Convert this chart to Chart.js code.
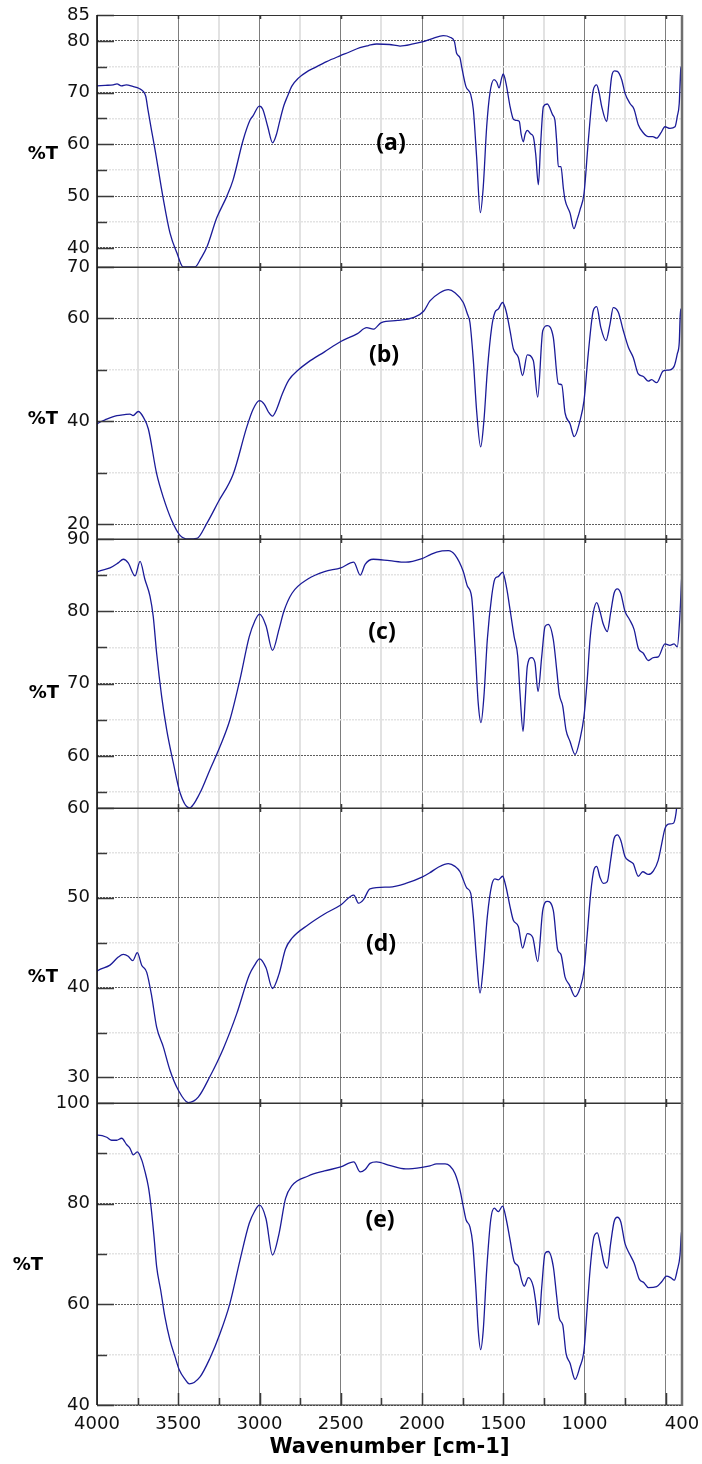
<!DOCTYPE html>
<html>
<head>
<meta charset="utf-8">
<style>
  html, body { margin: 0; padding: 0; background: #fff; }
  #wrap { position: relative; width: 702px; height: 1464px; overflow: hidden; }
  #wrap canvas { position: absolute; left: 0; }
</style>
<script src="https://cdn.jsdelivr.net/npm/chart.js@4.4.1/dist/chart.umd.min.js"></script>
</head>
<body>
<div id="wrap"></div>
<script>
// Spectres IR (a) a (e) : nombre d'onde [cm-1] et %T

const wnA = [
  4000, 3950, 3900, 3877, 3850, 3820, 3780, 3740, 3717, 3700,
  3686, 3665, 3643, 3594, 3551, 3508, 3470, 3440, 3397, 3360,
  3323, 3263, 3202, 3163, 3101, 3058, 3040, 3001, 2980, 2950,
  2919, 2895, 2874, 2850, 2829, 2800, 2761, 2700, 2669, 2587,
  2505, 2450, 2382, 2330, 2279, 2200, 2135, 2055, 2000, 1932,
  1869, 1828, 1800, 1787, 1766, 1756, 1730, 1700, 1684, 1664,
  1641, 1623, 1602, 1582, 1557, 1540, 1526, 1510, 1500, 1483,
  1458, 1440, 1428, 1410, 1401, 1390, 1377, 1365, 1352, 1330,
  1315, 1300, 1284, 1270, 1253, 1229, 1196, 1182, 1170, 1161,
  1145, 1130, 1120, 1089, 1065, 1045, 1028, 1003, 976, 946,
  925, 910, 894, 863, 850, 833, 815, 798, 771, 751,
  720, 695, 669, 640, 607, 580, 556, 530, 505, 474,
  443, 429, 417, 408, 404, 402, 400
];
const tA = [
  71.3, 71.4, 71.5, 71.7, 71.3, 71.5, 71.2, 70.8, 70.3, 69.3,
  66.6, 62.8, 59.0, 49.8, 42.9, 39.0, 36.3, 36.3, 36.3, 38.0,
  40.2, 45.8, 49.9, 53.1, 60.8, 64.7, 65.5, 67.4, 66.8, 63.5,
  60.3, 62.0, 64.7, 67.5, 69.2, 71.3, 72.8, 74.2, 74.7, 76.0,
  77.1, 77.8, 78.7, 79.1, 79.4, 79.3, 79.0, 79.4, 79.8, 80.5,
  81.0, 80.7, 79.8, 77.6, 76.7, 75.0, 71.2, 69.6, 66.7, 57.6,
  46.8, 51.8, 63.4, 69.9, 72.5, 72.0, 70.9, 72.8, 73.6, 71.8,
  67.3, 65.0, 64.7, 64.6, 64.4, 62.0, 60.5, 62.0, 62.7, 62.0,
  61.5, 58.0, 52.2, 60.0, 67.3, 67.8, 65.7, 64.7, 60.0, 55.7,
  55.7, 51.5, 49.3, 46.7, 43.7, 45.5, 47.3, 50.5, 60.9, 70.5,
  71.5, 70.0, 67.3, 64.4, 68.0, 73.1, 74.2, 74.1, 72.5, 69.9,
  67.9, 66.8, 63.8, 62.3, 61.5, 61.5, 61.2, 62.2, 63.4, 63.1,
  63.4, 65.4, 67.9, 74.4, 75.0, 69.2, 69.5
];

const wnB = [
  4000, 3994, 3940, 3877, 3830, 3797, 3778, 3746, 3715, 3684,
  3633, 3592, 3540, 3489, 3438, 3386, 3325, 3254, 3161, 3079,
  3040, 3000, 2970, 2945, 2920, 2895, 2860, 2820, 2760, 2700,
  2600, 2500, 2400, 2340, 2300, 2250, 2150, 2050, 1990, 1951,
  1890, 1838, 1797, 1746, 1721, 1705, 1684, 1664, 1639, 1619,
  1598, 1571, 1551, 1531, 1504, 1483, 1458, 1438, 1407, 1381,
  1352, 1315, 1288, 1257, 1229, 1192, 1161, 1140, 1120, 1089,
  1063, 1028, 1003, 977, 946, 925, 900, 868, 843, 823,
  792, 761, 730, 700, 669, 638, 607, 587, 556, 515,
  474, 447, 429, 417, 409, 404, 401, 400
];
const tB = [
  39.4, 39.6, 40.4, 41.1, 41.3, 41.4, 41.1, 41.9, 40.8, 38.5,
  29.8, 25.2, 20.7, 17.8, 17.1, 17.2, 20.1, 24.3, 29.8, 38.8,
  42.3, 44.0, 43.3, 41.8, 41.0, 42.3, 45.3, 48.0, 50.0, 51.5,
  53.5, 55.5, 57.0, 58.2, 57.9, 59.2, 59.6, 60.2, 61.4, 63.4,
  65.0, 65.6, 65.0, 63.1, 60.9, 59.2, 51.8, 42.1, 35.0, 40.1,
  49.8, 58.3, 61.2, 61.8, 63.1, 61.5, 57.6, 54.1, 52.4, 48.9,
  52.9, 51.8, 44.7, 57.6, 58.6, 56.3, 47.3, 47.1, 41.7, 39.5,
  37.0, 40.1, 44.0, 53.1, 61.5, 62.3, 58.3, 55.7, 58.9, 62.1,
  61.2, 57.6, 54.4, 52.4, 49.2, 48.7, 47.8, 48.1, 47.5, 49.8,
  50.0, 50.8, 53.1, 55.3, 61.8, 61.8, 47.0, 47.5
];

const wnC = [
  4000, 3994, 3920, 3869, 3838, 3808, 3766, 3735, 3705, 3674,
  3654, 3633, 3602, 3571, 3530, 3489, 3432, 3366, 3305, 3243,
  3182, 3120, 3063, 3030, 3000, 2960, 2920, 2880, 2850, 2800,
  2700, 2600, 2500, 2420, 2380, 2350, 2300, 2200, 2100, 2000,
  1951, 1910, 1838, 1797, 1746, 1721, 1694, 1674, 1654, 1637,
  1619, 1598, 1571, 1551, 1531, 1504, 1479, 1458, 1433, 1411,
  1397, 1378, 1366, 1352, 1325, 1305, 1286, 1263, 1243, 1223,
  1192, 1171, 1155, 1134, 1114, 1089, 1058, 1028, 1003, 983,
  966, 946, 925, 905, 884, 860, 839, 818, 798, 777,
  751, 724, 695, 669, 638, 607, 576, 546, 505, 474,
  449, 429, 412, 402, 400
];
const tC = [
  85.4, 85.5, 86.0, 86.7, 87.2, 86.7, 84.9, 86.9, 84.4, 82.1,
  79.3, 74.2, 68.2, 63.6, 59.0, 54.9, 52.8, 54.9, 58.1, 61.3,
  65.0, 70.6, 76.5, 78.6, 79.6, 78.0, 74.6, 77.5, 80.0, 82.5,
  84.5, 85.5, 86.0, 86.8, 85.0, 86.5, 87.2, 87.0, 86.8, 87.3,
  87.8, 88.2, 88.4, 87.8, 85.5, 83.5, 81.9, 75.2, 67.3, 64.6,
  68.2, 76.1, 82.1, 84.5, 84.8, 85.4, 83.2, 80.2, 76.5, 73.8,
  68.7, 63.4, 67.3, 72.4, 73.6, 72.9, 68.9, 73.8, 77.9, 78.2,
  76.1, 71.9, 68.5, 66.9, 63.6, 62.0, 60.2, 62.3, 65.5, 70.6,
  76.1, 79.8, 81.2, 80.0, 78.2, 77.2, 79.8, 82.5, 83.1, 82.5,
  80.0, 78.9, 77.5, 74.9, 74.2, 73.2, 73.6, 73.7, 75.5, 75.3,
  75.5, 75.1, 79.8, 84.6, 85.0
];

const wnD = [
  4000, 3994, 3920, 3869, 3838, 3808, 3780, 3752, 3725, 3694,
  3663, 3633, 3592, 3551, 3500, 3438, 3377, 3305, 3223, 3140,
  3063, 3030, 3000, 2960, 2920, 2880, 2840, 2800, 2700, 2600,
  2500, 2420, 2390, 2360, 2320, 2200, 2100, 2000, 1951, 1900,
  1838, 1797, 1766, 1746, 1725, 1700, 1684, 1664, 1643, 1623,
  1598, 1571, 1551, 1531, 1504, 1483, 1458, 1438, 1407, 1381,
  1352, 1319, 1288, 1257, 1229, 1192, 1165, 1145, 1120, 1093,
  1058, 1028, 1003, 983, 962, 942, 925, 905, 884, 860,
  839, 818, 798, 777, 751, 724, 700, 669, 642, 607,
  576, 546, 525, 505, 484, 453, 437, 425, 400
];
const tD = [
  41.8, 41.9, 42.5, 43.4, 43.7, 43.5, 43.0, 43.9, 42.5, 41.7,
  39.0, 35.6, 33.4, 30.8, 28.6, 27.2, 27.8, 30.1, 33.2, 37.1,
  41.4, 42.5, 43.2, 42.2, 39.9, 41.5, 44.3, 45.5, 47.0, 48.2,
  49.2, 50.3, 49.4, 49.8, 51.0, 51.2, 51.6, 52.3, 52.8, 53.4,
  53.8, 53.5, 52.9, 52.0, 51.1, 50.5, 47.9, 43.1, 39.4, 42.3,
  47.9, 51.4, 52.1, 52.0, 52.4, 51.2, 49.0, 47.5, 46.8, 44.4,
  46.0, 45.6, 42.9, 48.6, 49.6, 48.6, 44.2, 43.7, 41.2, 40.3,
  39.0, 39.9, 41.9, 46.0, 50.5, 53.1, 53.5, 52.3, 51.6, 51.8,
  54.2, 56.6, 57.0, 56.4, 54.6, 54.1, 53.8, 52.4, 52.9, 52.6,
  53.0, 54.2, 56.0, 57.7, 58.2, 58.3, 59.4, 61.5, 64.0
];

const wnE = [
  4000, 3994, 3940, 3910, 3879, 3848, 3817, 3797, 3777, 3752,
  3725, 3705, 3684, 3670, 3649, 3633, 3608, 3582, 3551, 3520,
  3494, 3458, 3432, 3366, 3305, 3243, 3182, 3120, 3063, 3030,
  3000, 2960, 2920, 2880, 2840, 2800, 2700, 2600, 2500, 2420,
  2380, 2350, 2320, 2280, 2200, 2100, 2000, 1951, 1910, 1858,
  1828, 1797, 1766, 1746, 1729, 1705, 1688, 1668, 1654, 1639,
  1623, 1602, 1577, 1555, 1531, 1504, 1483, 1458, 1433, 1407,
  1387, 1371, 1346, 1315, 1299, 1282, 1263, 1243, 1223, 1192,
  1171, 1155, 1134, 1114, 1089, 1058, 1028, 1003, 983, 962,
  942, 921, 900, 880, 860, 839, 818, 798, 777, 751,
  724, 695, 663, 634, 607, 556, 525, 495, 470, 447,
  429, 412, 402, 400
];
const tE = [
  93.6, 93.6, 93.2, 92.6, 92.6, 93.0, 91.7, 91.0, 89.7, 90.3,
  88.7, 86.4, 83.4, 80.1, 73.4, 67.5, 62.8, 57.5, 52.9, 49.6,
  47.0, 45.1, 44.2, 45.6, 49.3, 54.2, 60.2, 68.8, 76.1, 78.5,
  79.7, 77.0, 69.8, 74.0, 81.0, 83.6, 85.5, 86.5, 87.3, 88.3,
  86.3, 86.8, 88.0, 88.3, 87.6, 86.9, 87.2, 87.5, 87.9, 87.9,
  87.5, 86.0, 82.7, 79.4, 76.8, 75.4, 72.1, 62.8, 54.9, 51.0,
  54.9, 66.8, 76.8, 79.1, 78.4, 79.5, 77.1, 72.8, 68.5, 67.5,
  64.8, 63.6, 65.3, 63.5, 60.2, 55.9, 63.5, 70.1, 70.5, 67.5,
  61.5, 57.2, 55.9, 50.3, 48.3, 45.1, 47.6, 50.9, 59.5, 68.2,
  73.4, 74.2, 71.4, 68.2, 67.2, 72.1, 76.4, 77.3, 76.4, 72.1,
  70.1, 68.2, 65.0, 64.3, 63.3, 63.5, 64.5, 65.6, 65.3, 64.8,
  66.8, 69.8, 74.8, 71.8
];

// Graduations
const xTicks = [4000, 3750, 3500, 3250, 3000, 2750, 2500, 2250, 2000, 1750, 1500, 1250, 1000, 750, 500, 400];
const xTickLabels = [4000, 3500, 3000, 2500, 2000, 1500, 1000, 400];

const yMajorA = [40, 50, 60, 70, 80, 85];
const yMinorA = [45, 55, 65, 75];
const yMajorB = [20, 40, 60, 70];
const yMinorB = [30, 50];
const yMajorC = [60, 70, 80, 90];
const yMinorC = [55, 65, 75, 85];
const yMajorD = [30, 40, 50, 60];
const yMinorD = [35, 45, 55];
const yMajorE = [40, 60, 80, 100];
const yMinorE = [50, 70, 90];

const panelNames = ['(a)', '(b)', '(c)', '(d)', '(e)'];
const yLabel = '%T';
const xTitle = 'Wavenumber [cm-1]';

// Mise en page (pixels de la page)
const LINE_COLOR = '#1b1b98';
const TICK_FONT = { family: 'DejaVu Sans', size: 18 };

const panels = [
  { wn: wnA, t: tA, min: 36.3, max: 85, major: yMajorA, minor: yMinorA, top: 15, bottom: 267, nameX: 391, nameY: 143, unitX: 58, unitY: 154 },
  { wn: wnB, t: tB, min: 17.1, max: 70, major: yMajorB, minor: yMinorB, top: 267, bottom: 539, nameX: 384, nameY: 355, unitX: 58, unitY: 419 },
  { wn: wnC, t: tC, min: 52.8, max: 90, major: yMajorC, minor: yMinorC, top: 539, bottom: 808, nameX: 382, nameY: 632, unitX: 59, unitY: 693 },
  { wn: wnD, t: tD, min: 27.15, max: 60, major: yMajorD, minor: yMinorD, top: 808, bottom: 1103, nameX: 381, nameY: 944, unitX: 58, unitY: 977 },
  { wn: wnE, t: tE, min: 40, max: 100, major: yMajorE, minor: yMinorE, top: 1103, bottom: 1405, nameX: 380, nameY: 1220, unitX: 43, unitY: 1265 }
];

// Cadre, petites graduations internes et textes
const panelDecor = {
  id: 'panelDecor',
  afterDraw(chart, args, o) {
    const { ctx, chartArea: a } = chart;
    const x = chart.scales.x, y = chart.scales.y;
    ctx.save();

    ctx.lineWidth = 1.5;
    ctx.strokeStyle = '#3a3a3a';
    ctx.beginPath();
    y.ticks.forEach(t => {
      const py = Math.round(y.getPixelForValue(t.value)) + 0.5;
      const len = o.major.includes(t.value) ? 17 : 10;
      ctx.moveTo(a.left, py);
      ctx.lineTo(a.left + len, py);
    });
    x.ticks.forEach(t => {
      if (t.value >= 4000 || t.value <= 400) return;
      const px = Math.round(x.getPixelForValue(t.value)) + 0.5;
      const major = t.value % 500 === 0;
      const len = o.longTicks ? (major ? 12 : 7) : (major ? 4 : 0);
      if (len) {
        ctx.moveTo(px, a.bottom);
        ctx.lineTo(px, a.bottom - len);
      }
      if (major) {
        ctx.moveTo(px, a.top);
        ctx.lineTo(px, a.top + 4);
      }
    });
    ctx.stroke();

    // cadre
    ctx.lineWidth = 1.2;
    ctx.strokeStyle = '#333';
    ctx.beginPath();
    ctx.moveTo(a.left, a.top + 0.5); ctx.lineTo(a.right, a.top + 0.5);
    ctx.moveTo(a.left, a.bottom); ctx.lineTo(a.right, a.bottom);
    ctx.stroke();
    ctx.lineWidth = 1.6;
    ctx.strokeStyle = '#111';
    ctx.beginPath();
    ctx.moveTo(a.left, a.top); ctx.lineTo(a.left, a.bottom);
    ctx.stroke();
    ctx.lineWidth = 2.5;
    ctx.strokeStyle = '#6f6f6f';
    ctx.beginPath();
    ctx.moveTo(a.right, a.top); ctx.lineTo(a.right, a.bottom + 1);
    ctx.stroke();

    // textes
    ctx.fillStyle = '#000';
    ctx.textBaseline = 'middle';
    ctx.font = 'bold 23px "Open Sans"';
    ctx.textAlign = 'center';
    ctx.fillText(o.name, o.nameX, o.nameY - o.offsetY);
    ctx.font = 'bold 18px "DejaVu Sans"';
    ctx.textAlign = 'right';
    ctx.fillText(yLabel, o.unitX, o.unitY - o.offsetY);

    ctx.restore();
  }
};

const wrap = document.getElementById('wrap');

panels.forEach((p, i) => {
  const last = i === panels.length - 1;
  const padTop = 15;
  const padBottom = last ? 0 : 12;
  const axisH = last ? 59 : 0;
  const canvasTop = p.top - padTop;
  const canvas = document.createElement('canvas');
  canvas.width = 702;
  canvas.height = padTop + (p.bottom - p.top) + padBottom + axisH;
  canvas.style.top = canvasTop + 'px';
  wrap.appendChild(canvas);

  const yTicks = p.major.concat(p.minor).sort((u, v) => u - v);

  new Chart(canvas, {
    type: 'line',
    data: {
      datasets: [{
        data: p.wn.map((w, k) => ({ x: w, y: p.t[k] })),
        borderColor: LINE_COLOR,
        borderWidth: 1.3,
        pointRadius: 0,
        fill: false,
        cubicInterpolationMode: 'monotone'
      }]
    },
    options: {
      responsive: false,
      animation: false,
      events: [],
      layout: { padding: { top: padTop, bottom: padBottom, left: 0, right: 20 } },
      plugins: {
        legend: { display: false },
        tooltip: { enabled: false },
        panelDecor: {
          major: p.major, name: panelNames[i], nameX: p.nameX, nameY: p.nameY,
          unitX: p.unitX, unitY: p.unitY, offsetY: canvasTop, longTicks: last
        }
      },
      scales: {
        x: {
          type: 'linear',
          reverse: true,
          min: 400,
          max: 4000,
          afterBuildTicks: ax => { ax.ticks = xTicks.map(v => ({ value: v })); },
          afterFit: ax => {
            ax.height = axisH;
            ax.paddingLeft = 0;
            ax.paddingRight = 0;
          },
          border: { display: false },
          grid: {
            drawTicks: false,
            color: c => (c.tick && c.tick.value % 500 === 0) ? '#7d7d7d' : '#e2e2e2',
            lineWidth: c => (c.tick && c.tick.value % 500 === 0) ? 1 : 2
          },
          ticks: {
            display: last,
            autoSkip: false,
            maxRotation: 0,
            minRotation: 0,
            padding: 9,
            color: '#111',
            font: TICK_FONT,
            callback: v => xTickLabels.includes(v) ? String(v) : ''
          },
          title: {
            display: last,
            text: xTitle,
            color: '#000',
            font: { family: 'DejaVu Sans', size: 21, weight: 'bold' },
            padding: { top: 0, bottom: 4 }
          }
        },
        y: {
          type: 'linear',
          min: p.min,
          max: p.max,
          afterBuildTicks: ax => { ax.ticks = yTicks.map(v => ({ value: v })); },
          afterFit: ax => {
            ax.width = 97;
            ax.paddingTop = 0;
            ax.paddingBottom = 0;
          },
          border: { display: false, dash: [2, 1] },
          grid: {
            drawTicks: false,
            color: c => (c.tick && p.major.includes(c.tick.value)) ? '#5e5e5e' : '#e3e3e3',
            lineWidth: c => (c.tick && p.major.includes(c.tick.value)) ? 1 : 1.5
          },
          ticks: {
            autoSkip: false,
            padding: 7,
            color: '#111',
            font: TICK_FONT,
            callback: v => p.major.includes(v) ? String(v) : ''
          }
        }
      }
    },
    plugins: [panelDecor]
  });
});
</script>
</body>
</html>
